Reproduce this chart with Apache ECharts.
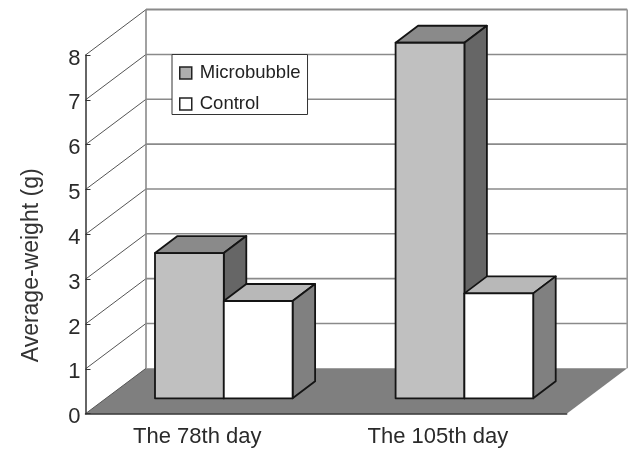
<!DOCTYPE html>
<html><head><meta charset="utf-8">
<style>html,body{margin:0;padding:0;background:#fff}#c{width:640px;height:450px}</style>
<script src="https://cdn.jsdelivr.net/npm/echarts@6/dist/echarts.min.js"></script>
</head><body><div id="c"></div>
<script>
var categories = ['The 78th day', 'The 105th day'];
var microbubble = [3.24, 7.93];
var control = [2.17, 2.34];
var yTicks = [0, 1, 2, 3, 4, 5, 6, 7, 8];

var WALL_DX = 60.5, WALL_DY = -45.4;
var BASE_DX = 18, BASE_DY = -15.4;
var BAR_DX = 22.5, BAR_DY = -17;
var BAR_RATIO = 0.286;

function poly(points, fill, stroke, lw) {
  return { type: 'polygon', shape: { points: points },
    style: { fill: fill, stroke: stroke, lineWidth: lw, lineJoin: 'round' } };
}
function line(x1, y1, x2, y2, color, lw) {
  return { type: 'line', shape: { x1: x1, y1: y1, x2: x2, y2: y2 },
    style: { stroke: color, lineWidth: lw } };
}
function barRender(side, front, top, sideFace) {
  return function (params, api) {
    var c = api.coord([api.value(0), api.value(1)]);
    var b = api.coord([api.value(0), 0]);
    var w = api.size([1, 0])[0] * BAR_RATIO;
    var x0 = c[0] + BASE_DX + (side < 0 ? -w : 0), x1 = x0 + w;
    var yT = c[1] + BASE_DY, yB = b[1] + BASE_DY;
    var e = '#141414', lw = 1.8;
    return { type: 'group', children: [
      poly([[x0, yT], [x1, yT], [x1 + BAR_DX, yT + BAR_DY], [x0 + BAR_DX, yT + BAR_DY]], top, e, lw),
      poly([[x1, yT], [x1 + BAR_DX, yT + BAR_DY], [x1 + BAR_DX, yB + BAR_DY], [x1, yB]], sideFace, e, lw),
      poly([[x0, yT], [x1, yT], [x1, yB], [x0, yB]], front, e, lw)
    ] };
  };
}
var option = {
  animation: false,
  backgroundColor: '#fff',
  textStyle: { fontFamily: 'Liberation Sans' },
  grid: { left: 85.5, right: 73.3, top: 55, bottom: 36.3 },
  legend: {
    left: 172, top: 54.5, orient: 'vertical', align: 'left', icon: 'rect',
    data: ['Microbubble', 'Control'],
    itemWidth: 12, itemHeight: 12, itemGap: 12, padding: [9, 7, 1, 7],
    backgroundColor: '#fff', borderColor: '#333', borderWidth: 1,
    itemStyle: { borderColor: '#222', borderWidth: 1.5 },
    textStyle: { fontFamily: 'Liberation Sans', fontSize: 18.5, color: '#222', padding: [0, 0, 0, 3] },
    selectedMode: false
  },
  xAxis: {
    type: 'category', data: categories, z: 5,
    axisLine: { lineStyle: { color: '#333', width: 1.5 } },
    axisTick: { inside: true, length: 4, lineStyle: { color: '#333' } },
    axisLabel: { fontSize: 22, color: '#2a2a2a', margin: 12, padding: [0, 17, 0, 0] }
  },
  yAxis: {
    type: 'value', min: 0, max: 8, interval: 1, z: 5,
    name: 'Average-weight (g)', nameLocation: 'middle', nameRotate: 90, nameGap: 42,
    nameTextStyle: { fontSize: 23, color: '#333', padding: [0, 62, 0, 0] },
    splitLine: { show: false },
    axisLine: { show: true, lineStyle: { color: '#333', width: 1.5 } },
    axisTick: { show: true, inside: true, length: 5, lineStyle: { color: '#333' } },
    axisLabel: { fontSize: 22, color: '#2a2a2a', margin: 5, verticalAlign: 'top', lineHeight: 7 }
  },
  series: [
    { type: 'custom', name: 'floor', z: 1, silent: true, data: [0], encode: { x: -1, y: -1 },
      renderItem: function (params, api) {
        var r = params.coordSys, y = r.y + r.height, x = r.x, X = r.x + r.width;
        return poly([[x, y], [X, y], [X + WALL_DX, y + WALL_DY], [x + WALL_DX, y + WALL_DY]], '#7f7f7f', null, 0);
      } },
    { type: 'custom', name: 'wall', z: 1, silent: true, data: yTicks, encode: { y: 0, x: -1 },
      renderItem: function (params, api) {
        var r = params.coordSys, v = api.value(0), y = api.coord([0, v])[1];
        var x = r.x, X = r.x + r.width, bx = x + WALL_DX, bX = X + WALL_DX, by = y + WALL_DY;
        var kids = [ line(x, y, bx, by, '#555', 1) ];
        if (v > 0) kids.push(line(bx, by, bX, by, '#8a8a8a', v === 8 ? 2 : 1.6));
        if (v === 8) {
          var by0 = r.y + r.height + WALL_DY;
          kids.push(line(bx, by, bx, by0, '#8a8a8a', 1.6), line(bX, by, bX, by0, '#999', 1.6));
        }
        return { type: 'group', children: kids };
      } },
    { type: 'custom', name: 'Microbubble', z: 2,
      itemStyle: { color: '#aeaeae' },
      data: categories.map(function (c, i) { return [i, microbubble[i]]; }),
      renderItem: barRender(-1, '#c0c0c0', '#8a8a8a', '#666666') },
    { type: 'custom', name: 'Control', z: 3,
      itemStyle: { color: '#ffffff' },
      data: categories.map(function (c, i) { return [i, control[i]]; }),
      renderItem: barRender(1, '#ffffff', '#b8b8b8', '#808080') }
  ]
};
var chart = echarts.init(document.getElementById('c'), null, { renderer: 'canvas' });
chart.setOption(option);
</script></body></html>
